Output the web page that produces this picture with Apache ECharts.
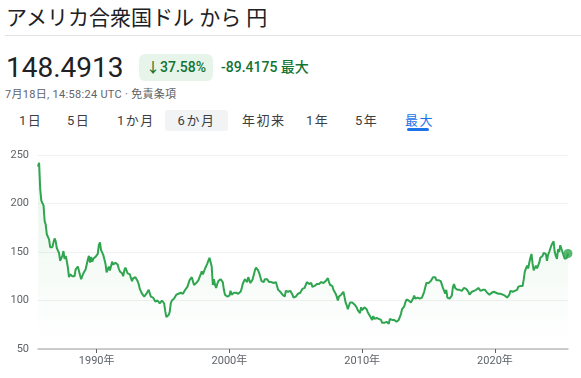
<!DOCTYPE html>
<html>
<head>
<meta charset="utf-8">
<script src="https://cdn.jsdelivr.net/npm/echarts@6/dist/echarts.min.js"></script>
<style>
  body { margin: 0; width: 581px; height: 378px; overflow: hidden; background: #fff;
         font-family: Roboto, "Noto Sans CJK JP", sans-serif; color: #202124; position: relative; }
  .title { position: absolute; left: 6px; top: 3px; font-size: 21px; line-height: 30px; }
  .sep { position: absolute; left: 5px; right: 0; top: 35px; border-top: 1px solid #e3e3e3; }
  .price { position: absolute; left: 6px; top: 50px; font-size: 28px; line-height: 36px; }
  .badge { position: absolute; left: 139px; top: 54px; width: 74px; height: 27px; border-radius: 6px;
           background: #e6f4ea; color: #137333; font-size: 14px; font-weight: 500; line-height: 27px; text-align: center; }
  .chg { position: absolute; left: 221px; top: 54px; color: #137333; font-size: 14px; font-weight: 500; line-height: 27px; }
  .sub { position: absolute; left: 5px; top: 88px; color: #5f6368; font-size: 11px; line-height: 14px; letter-spacing: 0.3px; }
  .tab { position: absolute; top: 110px; height: 21px; line-height: 21px; font-size: 13px; font-weight: 400;
         color: #3c4043; letter-spacing: 1.5px; }
  .tab.sel { background: #f1f3f4; border-radius: 3px; text-align: center; }
  .tab.on { color: #1a73e8; }
  .ul { position: absolute; left: 407px; top: 128px; width: 22px; height: 3px; border-radius: 2px; background: #1a73e8; }
  #chart { position: absolute; left: 0; top: 140px; width: 581px; height: 238px; }
</style>
</head>
<body>
<div class="title">アメリカ合衆国ドル から 円</div>
<div class="sep"></div>
<div class="price">148.4913</div>
<div class="badge">↓37.58%</div>
<div class="chg">-89.4175 最大</div>
<div class="sub">7月18日, 14:58:24 UTC · 免責条項</div>
<div class="tab" style="left:19px">1日</div>
<div class="tab" style="left:67px">5日</div>
<div class="tab" style="left:117px">1か月</div>
<div class="tab sel" style="left:165px;width:63px">6か月</div>
<div class="tab" style="left:242px">年初来</div>
<div class="tab" style="left:306px">1年</div>
<div class="tab" style="left:355px">5年</div>
<div class="tab on" style="left:405px">最大</div>
<div class="ul"></div>
<div id="chart"></div>
<script>
// USD/JPY, monthly, Aug 1985 .. Jul 2025
var rates1985 = [238, 242, 215, 203, 202];
var rates1986to1989 = [
  198, 182, 178, 168, 166, 163, 155, 154, 155, 160, 164, 161,
  154, 153, 149, 141, 141, 146, 151, 143, 146, 141, 134, 124,
  127, 129, 125, 124, 125, 132, 133, 135, 134, 126, 122, 125,
  128, 128, 132, 133, 142, 146, 139, 145, 140, 143, 144, 145
];
var rates1990s = [
  145, 148, 157, 160, 152, 154, 147, 145, 138, 129, 127, 135,
  131, 132, 140, 137, 139, 139, 137, 137, 133, 130, 130, 128,
  125, 131, 134, 133, 128, 126, 127, 123, 120, 123, 124, 124,
  125, 120, 117, 112, 110, 107, 106, 104, 106, 107, 108, 111,
  109, 104, 103, 103, 104, 99, 100, 100, 99, 97, 98, 100,
  99, 97, 89, 83, 84, 85, 88, 97, 100, 101, 102, 103,
  106, 105, 107, 105, 108, 109, 107, 108, 111, 113, 114, 116,
  121, 121, 124, 126, 116, 114, 118, 118, 121, 121, 127, 130,
  127, 126, 133, 132, 138, 141, 144, 146, 135, 116, 122, 116,
  113, 117, 120, 120, 122, 121, 119, 111, 106, 106, 104, 102
];
var rates2000s = [
  105, 110, 106, 106, 108, 106, 108, 108, 107, 108, 109, 112,
  117, 116, 122, 124, 119, 124, 124, 118, 119, 122, 123, 131,
  134, 133, 131, 128, 124, 120, 119, 119, 122, 122, 122, 120,
  119, 118, 119, 119, 118, 118, 119, 117, 111, 109, 109, 107,
  106, 107, 104, 110, 110, 109, 111, 110, 110, 106, 103, 104,
  104, 104, 107, 105, 108, 110, 112, 111, 113, 116, 119, 118,
  117, 117, 118, 114, 113, 115, 116, 117, 118, 117, 116, 119,
  121, 118, 118, 120, 122, 123, 119, 116, 115, 115, 111, 112,
  107, 104, 100, 104, 105, 106, 108, 109, 104, 98, 95, 91,
  90, 98, 98, 98, 96, 96, 95, 93, 90, 90, 87, 93
];
var rates2010s = [
  90, 89, 93, 94, 91, 88, 86, 84, 83, 80, 84, 81,
  82, 82, 83, 81, 81, 80, 77, 77, 77, 78, 78, 77,
  76, 81, 83, 80, 78, 80, 78, 78, 78, 80, 82, 86,
  91, 93, 94, 98, 101, 99, 100, 98, 98, 98, 102, 105,
  102, 102, 103, 102, 102, 102, 103, 104, 109, 110, 118, 120,
  118, 119, 120, 120, 124, 123, 124, 121, 120, 121, 123, 120,
  121, 113, 113, 107, 111, 103, 104, 102, 101, 105, 114, 117,
  113, 112, 111, 111, 111, 112, 110, 110, 113, 114, 112, 113,
  109, 106, 106, 109, 109, 110, 111, 111, 113, 113, 113, 110,
  109, 111, 111, 111, 109, 108, 108, 106, 108, 108, 109, 109
];
var rates2020s = [
  109, 108, 108, 107, 108, 107, 106, 106, 105, 105, 104, 103,
  104, 106, 110, 109, 109, 111, 110, 110, 111, 114, 113, 115,
  115, 115, 122, 130, 128, 136, 133, 139, 144, 148, 138, 131,
  130, 136, 133, 136, 139, 144, 142, 146, 149, 151, 148, 141,
  147, 150, 151, 157, 157, 161, 150, 146, 143, 153, 150, 157,
  155, 150, 150, 143, 144, 144, 148.4913
];
var yearTicks = [1990, 2000, 2010, 2020];

var allRates = rates1985.concat(rates1986to1989, rates1990s, rates2000s, rates2010s, rates2020s);
var startYear = 1985 + 7 / 12; // August 1985
var series = allRates.map(function (v, i) {
  return [startYear + i / 12, v];
});
var last = series[series.length - 1];

var chart = echarts.init(document.getElementById('chart'));
var labelColor = '#5f6368';
chart.setOption({
  animation: false,
  grid: { left: 38, right: 13, top: 15, bottom: 29 },
  xAxis: {
    type: 'value',
    min: startYear,
    max: last[0],
    splitLine: { show: false },
    axisLine: { lineStyle: { color: '#bdbdbd', width: 1.5 } },
    axisTick: { show: true, customValues: yearTicks, length: 4, lineStyle: { color: '#5f6368' } },
    axisLabel: {
      customValues: yearTicks,
      color: labelColor, fontSize: 11, margin: 7,
      fontFamily: 'Roboto, "Noto Sans CJK JP"',
      formatter: function (v) { return v + '年'; }
    }
  },
  yAxis: {
    type: 'value',
    min: 50, max: 250, interval: 50,
    axisLine: { show: false },
    axisTick: { show: false },
    splitLine: { lineStyle: { color: '#f1f1f1' } },
    axisLabel: { color: labelColor, fontSize: 11, margin: 9, fontFamily: 'Roboto' }
  },
  series: [
    {
      type: 'line',
      data: series,
      symbol: 'none',
      lineStyle: { color: '#2fa54f', width: 2 },
      areaStyle: {
        color: new echarts.graphic.LinearGradient(0, 0, 0, 1, [
          { offset: 0, color: 'rgba(52,168,83,0.16)' },
          { offset: 0.85, color: 'rgba(52,168,83,0.02)' },
          { offset: 1, color: 'rgba(52,168,83,0)' }
        ])
      }
    },
    {
      type: 'scatter',
      data: [last],
      symbolSize: 9,
      itemStyle: { color: '#2fa54f' }
    }
  ]
});
</script>
</body>
</html>
